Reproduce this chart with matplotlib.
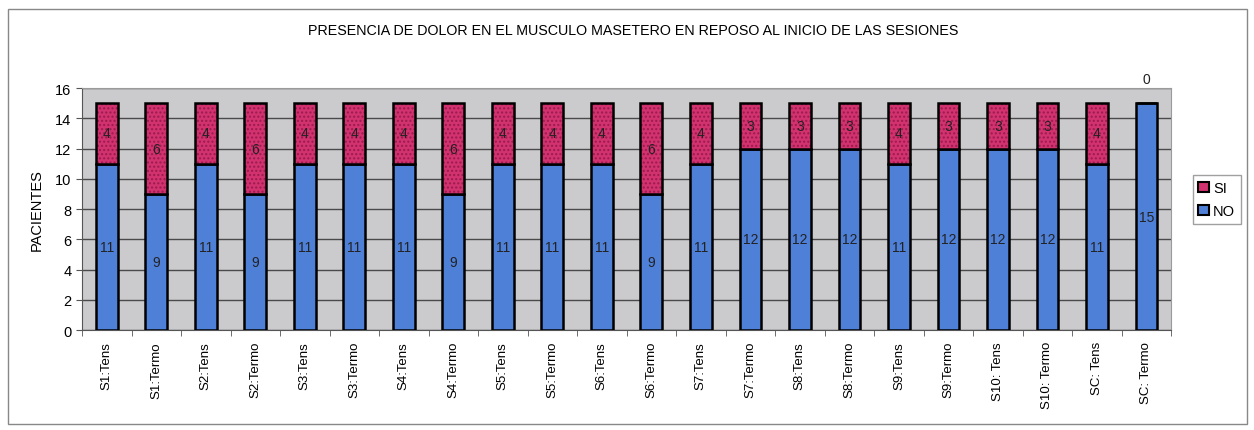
import numpy as np
import matplotlib
matplotlib.use("Agg")
import matplotlib.pyplot as plt
from matplotlib.patches import Rectangle, Patch

plt.rcParams['font.family'] = ['Liberation Sans', 'DejaVu Sans']

sesiones = ["S1:Tens", "S1:Termo", "S2:Tens", "S2:Termo", "S3:Tens", "S3:Termo",
            "S4:Tens", "S4:Termo", "S5:Tens", "S5:Termo", "S6:Tens", "S6:Termo",
            "S7:Tens", "S7:Termo", "S8:Tens", "S8:Termo", "S9:Tens", "S9:Termo",
            "S10: Tens", "S10: Termo", "SC: Tens", "SC: Termo"]
no_dolor = [11, 9, 11, 9, 11, 11, 11, 9, 11, 11, 11, 9, 11, 12, 12, 12, 11, 12, 12, 12, 11, 15]
si_dolor = [4, 6, 4, 6, 4, 4, 4, 6, 4, 4, 4, 6, 4, 3, 3, 3, 4, 3, 3, 3, 4, 0]

azul = "#4f80d8"
rosa = "#d2326f"

fig = plt.figure(figsize=(12.54, 4.31), dpi=100)
ax = fig.add_axes([0.0654, 0.232, 0.8686, 0.5615])
ax.set_facecolor("#cbcbce")

x = np.arange(len(sesiones))
w = 0.44
ax.bar(x, no_dolor, w, color=azul, edgecolor="black", linewidth=1.8, zorder=3)
plt.rcParams['hatch.color'] = "#9a1c4c"
ax.bar(x, si_dolor, w, bottom=no_dolor, color=rosa, edgecolor="#9a1c4c",
       hatch="....", linewidth=0, zorder=3)
ax.bar(x, si_dolor, w, bottom=no_dolor, facecolor="none", edgecolor="black",
       linewidth=1.8, zorder=4)

for i in range(len(sesiones)):
    ax.text(x[i], no_dolor[i] / 2, str(no_dolor[i]), ha="center", va="center",
            fontsize=10, color="#222222", zorder=5)
    if si_dolor[i] > 0:
        ax.text(x[i], no_dolor[i] + si_dolor[i] / 2, str(si_dolor[i]), ha="center",
                va="center", fontsize=10, color="#222222", zorder=5)
    else:
        ax.text(x[i], 16.6, str(si_dolor[i]), ha="center", va="center",
                fontsize=10, color="#222222", zorder=5, clip_on=False)

ax.set_xlim(-0.5, len(sesiones) - 0.5)
ax.set_ylim(0, 16)
ax.set_yticks(range(0, 17, 2))
ax.set_xticks(x)
ax.set_xticklabels(sesiones, rotation=90, fontsize=9.5)
ax.set_xticks(np.arange(-0.5, len(sesiones), 1), minor=True)
ax.tick_params(axis="x", which="major", length=0, pad=8)
ax.tick_params(axis="x", which="minor", length=4, color="#555555")
ax.tick_params(axis="y", labelsize=10.5, length=4, color="#555555")
ax.yaxis.grid(True, color="#4a4a4a", linewidth=1.0, zorder=0)
ax.set_axisbelow(True)
for side in ["top", "right"]:
    ax.spines[side].set_color("#9a9a9a")
ax.spines["left"].set_color("#555555")
ax.spines["bottom"].set_color("#555555")

ax.set_ylabel("PACIENTES", fontsize=10.5, labelpad=8)
fig.text(0.505, 0.928, "PRESENCIA DE DOLOR EN EL MUSCULO MASETERO EN REPOSO AL INICIO DE LAS SESIONES",
         ha="center", va="center", fontsize=10.3)

handles = [Patch(facecolor=rosa, edgecolor="black", linewidth=1.5),
           Patch(facecolor=azul, edgecolor="black", linewidth=1.5)]
fig.legend(handles, ["SI", "NO"], loc="center left", bbox_to_anchor=(0.951, 0.535),
           fontsize=10.5, frameon=True, fancybox=False, edgecolor="#888888",
           handlelength=0.7, handleheight=0.7, handletextpad=0.3,
           borderpad=0.4, labelspacing=0.6, borderaxespad=0)

fig.add_artist(Rectangle((0.0064, 0.014), 0.988, 0.963, transform=fig.transFigure,
                         fill=False, edgecolor="#888888", linewidth=1.0))

fig.savefig("out.png", dpi=100)
